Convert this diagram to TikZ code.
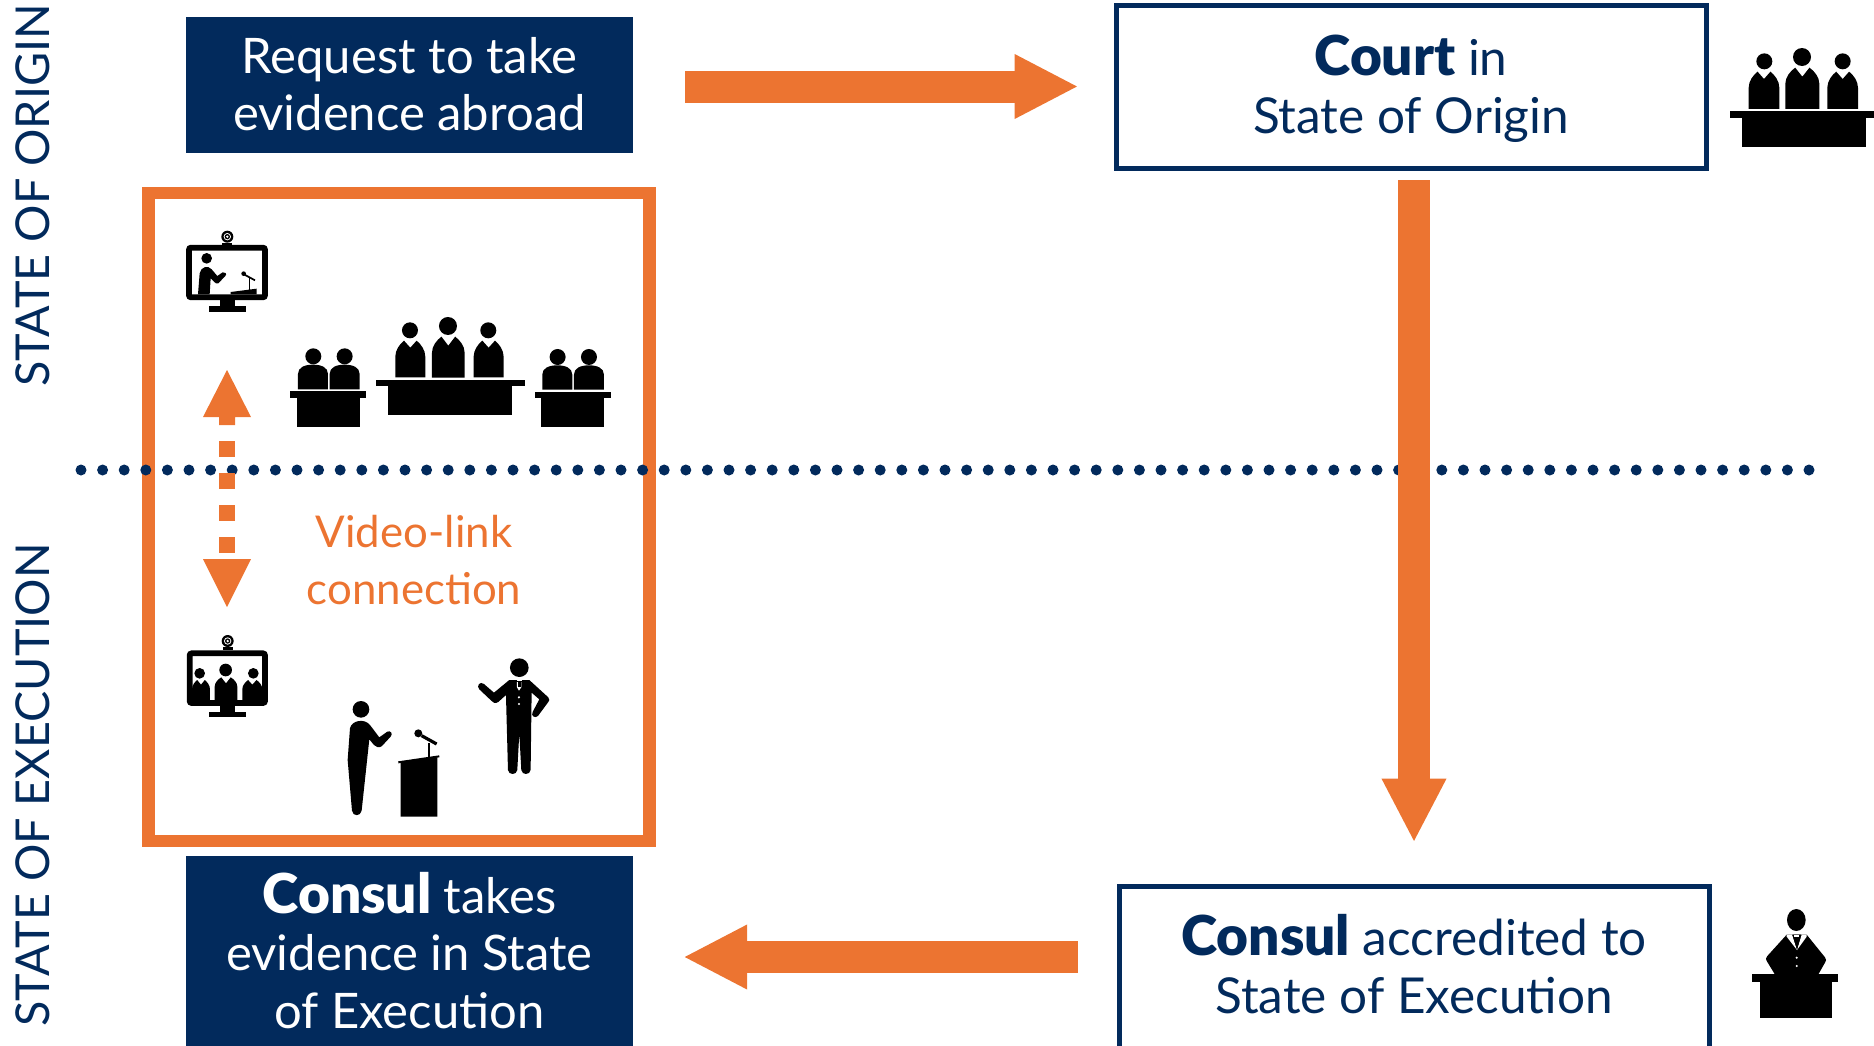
\documentclass[tikz,border=0pt]{standalone}
\usepackage{fontspec}
\setmainfont{Lato}[BoldFont={Lato Black}]
\usetikzlibrary{arrows.meta,calc}
\definecolor{navy}{HTML}{022A5C}
\definecolor{orng}{HTML}{EC7431}
\newcommand\bigbold[1]{{\fontsize{55}{58}\selectfont\bfseries #1}}
\tikzset{
  darkbox/.style={fill=navy,text=white,minimum width=447pt,inner sep=0pt,align=center,font=\fontsize{49}{57.6}\selectfont},
  whitebox/.style={draw=navy,line width=5pt,fill=white,text=navy,inner sep=0pt,align=center,font=\fontsize{49.5}{58}\selectfont},
  bigarrow/.style={orng,line width=32pt,-{Triangle[length=64pt,width=60pt]}},
  sidelabel/.style={rotate=90,text=navy,font=\fontsize{46.7}{50}\selectfont}
}
% (cx, collar top y, bottom y, half width, notch depth)
\newcommand\judgebody[5]{\fill (#1-#4,#3) -- (#1-#4,#2+48) .. controls (#1-#4,#2+28) and (#1-#4*0.7,#2+10) .. (#1-#4*0.42,#2) -- (#1,#2+#5) -- (#1+#4*0.42,#2) .. controls (#1+#4*0.7,#2+10) and (#1+#4,#2+28) .. (#1+#4,#2+48) -- (#1+#4,#3) -- cycle;}
% same, with shorter shoulders, for the figures on the screen
\newcommand\screenbody[5]{\fill (#1-#4,#3) -- (#1-#4,#2+28) .. controls (#1-#4,#2+16) and (#1-#4*0.7,#2+6) .. (#1-#4*0.42,#2) -- (#1,#2+#5) -- (#1+#4*0.42,#2) .. controls (#1+#4*0.7,#2+6) and (#1+#4,#2+16) .. (#1+#4,#2+28) -- (#1+#4,#3) -- cycle;}
% (cx, top y, bottom y, half width)
\newcommand\domebody[4]{\fill (#1-#4,#3) -- (#1-#4,#2+28) .. controls (#1-#4,#2+8) and (#1-#4*0.55,#2) .. (#1,#2) .. controls (#1+#4*0.55,#2) and (#1+#4,#2+8) .. (#1+#4,#2+28) -- (#1+#4,#3) -- cycle;}
\newcommand\webcam[2]{\fill (#1,#2) circle (18); \fill[white] (#1,#2) circle (11); \fill (#1,#2) circle (8); \fill[white] (#1,#2) circle (4); \fill (#1-15,#2+18) rectangle (#1+15,#2+26);}
\begin{document}
\begin{tikzpicture}[x=1pt,y=-1pt]
\useasboundingbox (0,0) rectangle (1874,1045);
\clip (0,0) rectangle (1874,1045);
% frame
\node[draw=orng,line width=12.5pt,minimum width=501pt,minimum height=648pt,inner sep=0pt] (frame) at (399,517) {};
% dotted separator
\coordinate (dotL) at (81,470);
\coordinate (dotR) at (1815,470);
\draw[navy,line width=11pt,line cap=round,dash pattern=on 0pt off 21.6pt] (dotL) -- (dotR);
% boxes
\node[darkbox,minimum height=136pt] (req) at (409.5,85) {Request to take\\evidence abroad\rule[-2pt]{0pt}{1pt}};
\node[whitebox,minimum width=590pt,minimum height=163pt] (court) at (1411,87) {\rule{0pt}{44pt}\bigbold{Court} in\\State of Origin};
\node[darkbox,minimum height=190pt] (consul) at (409.5,951) {\bigbold{Consul} takes\\evidence in State\\of Execution\rule[-2pt]{0pt}{1pt}};
\node[whitebox,minimum width=590pt,minimum height=164pt] (acc) at (1414,968) {\bigbold{Consul} accredited to\\State of Execution\rule[-8pt]{0pt}{1pt}};
% arrows
\draw[bigarrow,shorten <=52pt,shorten >=35pt] ([yshift=-1.5pt]req.east) -- ([yshift=-1.5pt]req.east -| court.west);
\draw[bigarrow,shorten <=9pt,shorten >=41pt] (court.south -| acc.north) -- (acc.north);
\draw[bigarrow,shorten <=39pt,shorten >=50pt] ([yshift=11pt]acc.west) -- ([yshift=11pt]acc.west -| consul.east);
% video link
\node[text=orng,align=center,font=\fontsize{43.8}{57.6}\selectfont,inner sep=0pt] (vl) at (414,560) {Video-link\\connection};
\coordinate (dashTop) at (227,370);
\coordinate (dashBot) at (227,607);
\fill[orng] (dashTop) -- ++(24,47) -- ++(-16,0) -- ++(0,8) -- ++(-16,0) -- ++(0,-8) -- ++(-16,0) -- cycle;
\fill[orng] (dashBot) -- ++(24,-48) -- ++(-48,0) -- cycle;
\fill[orng] (219,441) rectangle (235,457);
\fill[orng] (219,473) rectangle (235,489);
\fill[orng] (219,505) rectangle (235,521);
\fill[orng] (219,537) rectangle (235,553);
% labels
\node[sidelabel] (so) at (33,195.5) {STATE OF ORIGIN};
\node[sidelabel] (se) at (33,785) {STATE OF EXECUTION};
% icons
\begin{scope}[shift={(140,210)},x=0.3333pt,y=-0.3333pt]
 % monitor 1
 \draw[line width=5.7pt,rounded corners=2pt] (147,113) rectangle (375,262);
 \fill (240,270) rectangle (285,288); \fill (206,288) rectangle (317,305);
 \webcam{262}{80}
 \fill (200,145) circle (16);
 \fill (174,253) -- (179,190) .. controls (182,170) and (205,165) .. (215,178) -- (232,198) -- (248,187) .. controls (255,184) and (262,192) .. (256,198) -- (235,220) .. controls (230,222) and (226,220) .. (222,215) -- (212,205) -- (209,253) -- cycle;
 \fill (272,246) -- (350,236) -- (350,253) -- (272,253) -- cycle;
 \draw[line width=1pt] (330,205) -- (330,240);
 \draw[line width=1.7pt] (310,192) -- (345,211);
 \fill (311,191) circle (7);
 % courtroom
 \judgebody{811}{392}{502}{45}{21}
 \judgebody{925}{380}{503}{49}{27}
 \judgebody{1046}{392}{502}{45}{21}
 \fill (810,361) circle (24); \fill (924,348) circle (27); \fill (1045,361) circle (24);
 \fill (708,510) rectangle (1155,528); \fill (744,528) rectangle (1116,614);
 \domebody{519}{464}{538}{45}\domebody{614}{464}{538}{45}
 \fill (520,439) circle (24); \fill (614,439) circle (24);
 \fill (450,543) rectangle (678,564); \fill (471,564) rectangle (660,651);
 \domebody{1252}{466}{539}{45}\domebody{1347}{466}{539}{45}
 \fill (1253,441) circle (24); \fill (1347,441) circle (24);
 \fill (1185,546) rectangle (1413,564); \fill (1203,564) rectangle (1392,651);
\end{scope}
\begin{scope}[shift={(170,620)},x=0.3333pt,y=-0.3333pt]
 % monitor 2
 \draw[line width=5.7pt,rounded corners=2pt] (59,100) rectangle (285,249);
 \fill (150,257) rectangle (195,275); \fill (117,275) rectangle (227,292);
 \webcam{173}{63}
 \screenbody{93}{180}{245}{27}{14}
 \screenbody{168}{172}{245}{34}{18}
 \screenbody{247}{180}{245}{30}{14}
 \fill (89,160) circle (16); \fill (167,150) circle (19); \fill (250,160) circle (16);
 % speaker
 \fill (573,268) circle (25);
 \fill (533,420) -- (540,325) .. controls (545,300) and (585,295) .. (600,315) -- (628,352) -- (652,335) .. controls (662,330) and (670,342) .. (662,350) -- (636,378) .. controls (628,385) and (618,382) .. (612,375) -- (598,358) -- (575,572) .. controls (572,590) and (548,590) .. (546,572) -- cycle;
 % lectern
 \fill (692,425) -- (802,412) -- (802,590) -- (692,590) -- cycle;
 \draw[line width=2pt] (685,427) -- (808,409);
 \draw[line width=2pt] (778,370) -- (778,412);
 \draw[line width=3.2pt] (755,347) -- (800,372);
 \fill (745,340) circle (12);
 % standing man
 \fill (1048,143) circle (28);
 \fill (1018,180) -- (1078,180) -- (1135,232) .. controls (1140,238) and (1138,242) .. (1135,246) -- (1104,288) .. controls (1095,296) and (1082,288) .. (1088,276) -- (1108,238) -- (1085,218) -- (1082,450) .. controls (1080,466) and (1056,466) .. (1054,450) -- (1048,340) -- (1042,450) .. controls (1040,466) and (1016,466) .. (1014,450) -- (1008,225) -- (985,246) .. controls (976,252) and (968,248) .. (964,242) -- (928,208) .. controls (918,198) and (930,182) .. (942,192) -- (972,218) -- cycle;
 \fill[white] (1040,178) rectangle (1055,184);
 \fill[white] (1041,186) -- (1054,186) -- (1054,202) -- (1047,212) -- (1041,202) -- cycle;
 \fill (1043,187) rectangle (1052,202);
 \fill[white] (1047,232) circle (3.5); \fill[white] (1047,252) circle (3.5);
\end{scope}
\begin{scope}[shift={(1700,30)},x=0.3333pt,y=-0.3333pt]
 \judgebody{192}{125}{237}{46}{22}
 \judgebody{307}{113}{237}{51}{27}
 \judgebody{428}{125}{237}{46}{22}
 \fill (193,94) circle (24); \fill (306,81) circle (27); \fill (428,94) circle (24);
 \fill (90,242) rectangle (522,264); \fill (126,264) rectangle (498,351);
\end{scope}
\begin{scope}[shift={(1720,890)},x=0.3333pt,y=-0.3333pt]
 \fill (229,90) ellipse [x radius=28,y radius=33];
 \fill (200,134) -- (260,134) -- (315,202) .. controls (320,208) and (318,212) .. (316,216) -- (290,262) -- (280,262) -- (272,208) -- (188,208) -- (180,262) -- (170,262) -- (142,216) .. controls (136,208) and (138,202) .. (142,198) -- cycle;
 \fill (180,205) rectangle (280,255);
 \fill[white] (200,134) -- (216,134) -- (231,180) -- (200,140) -- cycle;
 \fill[white] (260,134) -- (245,134) -- (231,180) -- (260,140) -- cycle;
 \fill (218,134) -- (243,134) -- (231,178) -- cycle;
 \fill[white] (223,136) rectangle (238,140);
 \fill[white] (230,203) circle (3.5); \fill[white] (230,228) circle (3.5);
 \fill (96,252) rectangle (354,275); \fill (120,275) rectangle (336,384);
\end{scope}
\end{tikzpicture}
\end{document}
